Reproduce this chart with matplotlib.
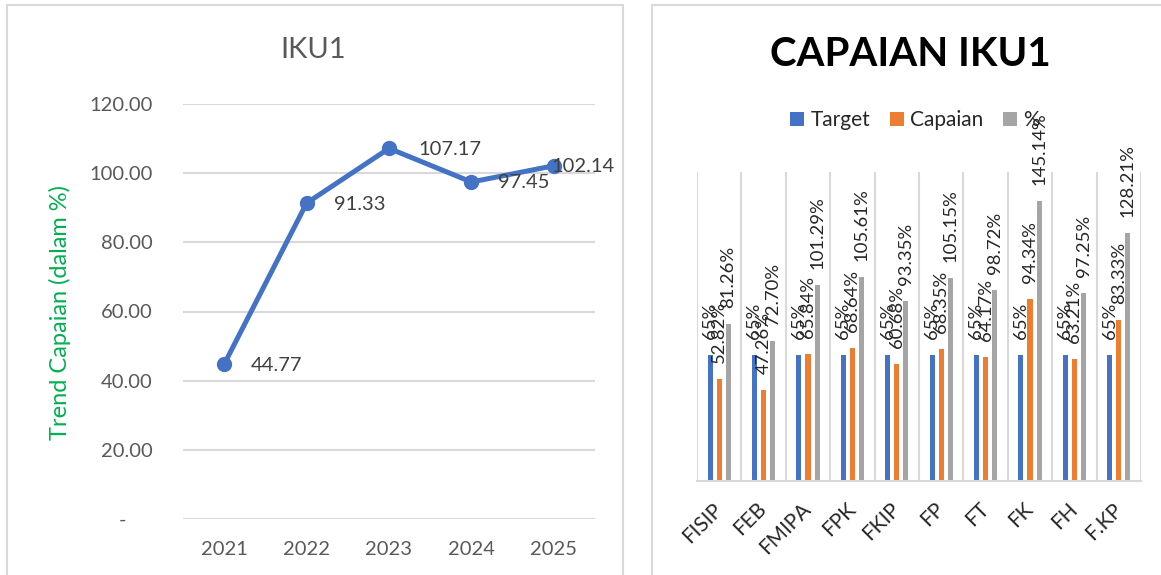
import matplotlib
matplotlib.use("Agg")
import matplotlib.pyplot as plt
from matplotlib.patches import Rectangle, Patch
import numpy as np

plt.rcParams['font.family'] = ['Lato', 'DejaVu Sans']

# ---------------- data ----------------
years = ["2021", "2022", "2023", "2024", "2025"]
trend = [44.77, 91.33, 107.17, 97.45, 102.14]
yticks_left = [0, 20, 40, 60, 80, 100, 120]

faculties = ["FISIP", "FEB", "FMIPA", "FPK", "FKIP", "FP", "FT", "FK", "FH", "F.KP"]
target = [65, 65, 65, 65, 65, 65, 65, 65, 65, 65]
capaian = [52.82, 47.26, 65.84, 68.64, 60.68, 68.35, 64.17, 94.34, 63.21, 83.33]
persen = [81.26, 72.70, 101.29, 105.61, 93.35, 105.15, 98.72, 145.14, 97.25, 128.21]

# ---------------- figure ----------------
W, H = 1161, 575
DPI = 100
fig = plt.figure(figsize=(W / DPI, H / DPI), dpi=DPI)
PX = 72.0 / DPI  # points per pixel

def fx(px):
    return px / W

def fy(py):
    return 1 - py / H

border = '#D9D9D9'
# panel borders
fig.patches.append(Rectangle((fx(7), fy(590)), fx(623 - 7), (590 - 5) / H,
                             transform=fig.transFigure, fill=False,
                             edgecolor=border, linewidth=1.5, clip_on=False))
fig.patches.append(Rectangle((fx(652), fy(590)), fx(1200 - 652), (590 - 5) / H,
                             transform=fig.transFigure, fill=False,
                             edgecolor=border, linewidth=1.5, clip_on=False))

# ---------------- left chart ----------------
axl = fig.add_axes([fx(183), fy(519), fx(595 - 183), (519 - 104) / H])
x = np.arange(len(years))
axl.set_xlim(-0.5, len(years) - 0.5)
axl.set_ylim(0, 120)
axl.set_yticks(yticks_left)
axl.set_yticklabels([("%.2f" % v) if v != 0 else "-     " for v in yticks_left])
axl.set_xticks(x)
axl.set_xticklabels(years)
axl.grid(axis='y', color=border, linewidth=1.5)
axl.set_axisbelow(True)
for s in axl.spines.values():
    s.set_visible(False)
axl.tick_params(axis='both', length=0, labelsize=14.5, labelcolor='#595959')
axl.tick_params(axis='y', pad=22)
axl.tick_params(axis='x', pad=16)
axl.plot(x, trend, color='#4472C4', linewidth=3.6, marker='o', markersize=10,
         clip_on=False, zorder=3)
label_dx = [27, 27, 29, 27, -2]
for xi, v, dx in zip(x, trend, label_dx):
    axl.annotate("%.2f" % v, (xi, v), xytext=(dx * PX, -1 * PX),
                 textcoords='offset points', ha='left', va='center',
                 fontsize=14.5, color='#404040', zorder=4, annotation_clip=False)
fig.text(fx(313), fy(50), "IKU1", ha='center', va='center', fontsize=21, color='#595959')
fig.text(fx(60), fy(312), "Trend Capaian (dalam %)", ha='center', va='center',
         rotation=90, fontsize=17, color='#00B050')

# ---------------- right chart ----------------
axr = fig.add_axes([fx(697), fy(481), fx(1141 - 697), (481 - 172) / H])
n = len(faculties)
xc = np.arange(n)
axr.set_xlim(-0.5, n - 0.5)
axr.set_ylim(0, 160)
bw = 0.115
off = 0.205
series = [(target, '#4472C4', 'Target', -off),
          (capaian, '#ED7D31', 'Capaian', 0.0),
          (persen, '#A5A5A5', '%', off)]
for vals, col, name, o in series:
    axr.bar(xc + o, vals, width=bw, color=col, zorder=2)
    for xi, v in zip(xc, vals):
        txt = ("%d%%" % v) if name == 'Target' else ("%.2f%%" % v)
        axr.annotate(txt, (xi + o, v), xytext=(0, 16 * PX), textcoords='offset points',
                     ha='center', va='bottom', rotation=90, fontsize=13.3,
                     color='#262626', zorder=4, annotation_clip=False)
for b in np.arange(-0.5, n, 1.0):
    axr.axvline(b, color=border, linewidth=1.5, zorder=1)
for s in ['top', 'left', 'right']:
    axr.spines[s].set_visible(False)
axr.spines['bottom'].set_color(border)
axr.spines['bottom'].set_linewidth(1.5)
axr.set_yticks([])
axr.set_xticks(xc)
axr.set_xticklabels(faculties, rotation=45, ha='right', va='center',
                    rotation_mode='anchor', fontsize=15, color='#262626')
axr.tick_params(axis='x', length=0, pad=18)

fig.text(fx(910), fy(55), "CAPAIAN IKU1", ha='center', va='center',
         fontsize=29, fontweight='bold', color='#000000')

handles = [Patch(facecolor=c, edgecolor='none', label=nm) for _, c, nm, _ in series]
fig.legend(handles=handles, loc='center', bbox_to_anchor=(fx(915), fy(120)),
           ncol=3, frameon=False, fontsize=15, handlelength=0.67, handleheight=0.67,
           handletextpad=0.3, columnspacing=0.95, labelcolor='#262626')

fig.savefig("out.png", dpi=DPI)
